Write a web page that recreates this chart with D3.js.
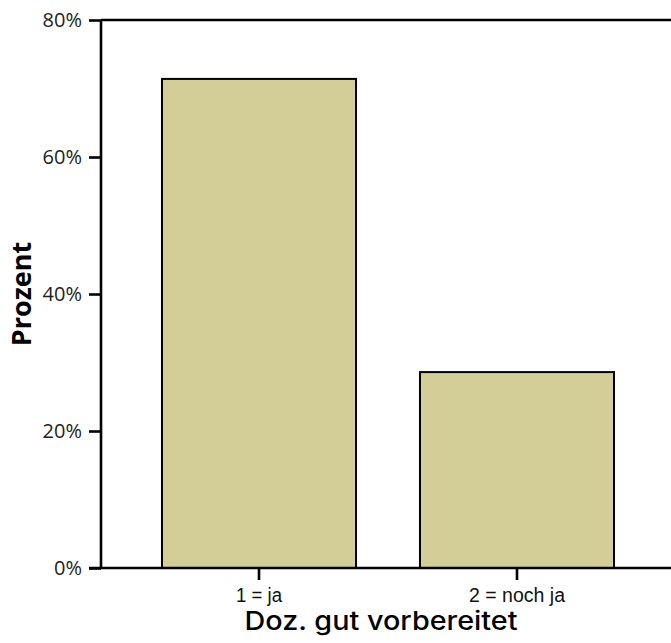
<!DOCTYPE html>
<html>
<head>
<meta charset="utf-8">
<script src="https://cdn.jsdelivr.net/npm/d3@7"></script>
<style>
  html, body { margin: 0; padding: 0; background: #fff; }
  svg { display: block; }
</style>
</head>
<body>
<script>
// ---- data ----
const categories = ["1 = ja", "2 = noch ja"];
const percentValues = [0.714, 0.286];
const yTickValues = [0, 0.2, 0.4, 0.6, 0.8];
const xTitle = "Doz. gut vorbereitet";
const yTitle = "Prozent";

// ---- layout ----
const W = 671, H = 643;
const plot = { left: 101, top: 20, right: 675, bottom: 568 };
const barFill = "#d3ce97";
const xLabelWidths = { "1 = ja": 46, "2 = noch ja": 96 };

const svg = d3.select("body").append("svg")
  .attr("width", W).attr("height", H);

const x = d3.scaleBand()
  .domain(categories)
  .range([plot.left, plot.right])
  .paddingInner(0.248)
  .paddingOuter(0.2364);

const y = d3.scaleLinear()
  .domain([0, 0.8])
  .range([plot.bottom, plot.top]);

// bars
svg.append("g").selectAll("rect")
  .data(categories.map((c, i) => ({ c, v: percentValues[i] })))
  .join("rect")
  .attr("x", d => x(d.c))
  .attr("y", d => y(d.v))
  .attr("width", x.bandwidth())
  .attr("height", d => y(0) - y(d.v))
  .attr("fill", barFill)
  .attr("stroke", "#000")
  .attr("stroke-width", 2);

// top frame line
svg.append("line")
  .attr("x1", plot.left).attr("x2", W + 10)
  .attr("y1", y(0.8)).attr("y2", y(0.8))
  .attr("stroke", "#000").attr("stroke-width", 2.6);

// y axis
const yAxis = d3.axisLeft(y)
  .tickValues(yTickValues)
  .tickFormat(d3.format(".0%"))
  .tickSize(12)
  .tickPadding(7);
const gy = svg.append("g")
  .attr("transform", `translate(${plot.left},0)`)
  .call(yAxis);
gy.select(".domain").attr("stroke", "#000").attr("stroke-width", 2.6)
  .attr("d", `M0,${plot.top}V${plot.bottom}`);
gy.selectAll(".tick line").attr("stroke", "#000").attr("stroke-width", 2.6);
gy.selectAll(".tick text")
  .attr("fill", "#222")
  .style("font-family", "'Open Sans', sans-serif")
  .style("font-size", "20px");

// x axis
const xAxis = d3.axisBottom(x).tickSize(12).tickPadding(8);
const gx = svg.append("g")
  .attr("transform", `translate(0,${plot.bottom})`)
  .call(xAxis);
gx.select(".domain").attr("stroke", "#000").attr("stroke-width", 2.6)
  .attr("d", `M${plot.left - 12},0H${W + 10}`);
gx.selectAll(".tick line").attr("stroke", "#000").attr("stroke-width", 2.6);
gx.selectAll(".tick text")
  .attr("fill", "#111")
  .style("font-family", "'Liberation Sans', Arial, sans-serif")
  .style("font-size", "20px")
  .attr("y", 20)
  .attr("dy", "0.72em")
  .attr("textLength", d => xLabelWidths[d])
  .attr("lengthAdjust", "spacingAndGlyphs");

// axis titles
svg.append("text")
  .attr("x", 381)
  .attr("y", 630)
  .attr("text-anchor", "middle")
  .attr("fill", "#000")
  .style("font-family", "Inter, 'Liberation Sans', Arial, sans-serif")
  .style("font-size", "26px")
  .style("font-weight", "500")
  .attr("textLength", 273)
  .attr("lengthAdjust", "spacingAndGlyphs")
  .text(xTitle);

svg.append("text")
  .attr("transform", `translate(31,${(plot.top + plot.bottom) / 2}) rotate(-90)`)
  .attr("text-anchor", "middle")
  .attr("fill", "#000")
  .style("font-family", "'Open Sans', Arial, sans-serif")
  .style("font-size", "27px")
  .style("font-weight", "700")
  .text(yTitle);
</script>
</body>
</html>
